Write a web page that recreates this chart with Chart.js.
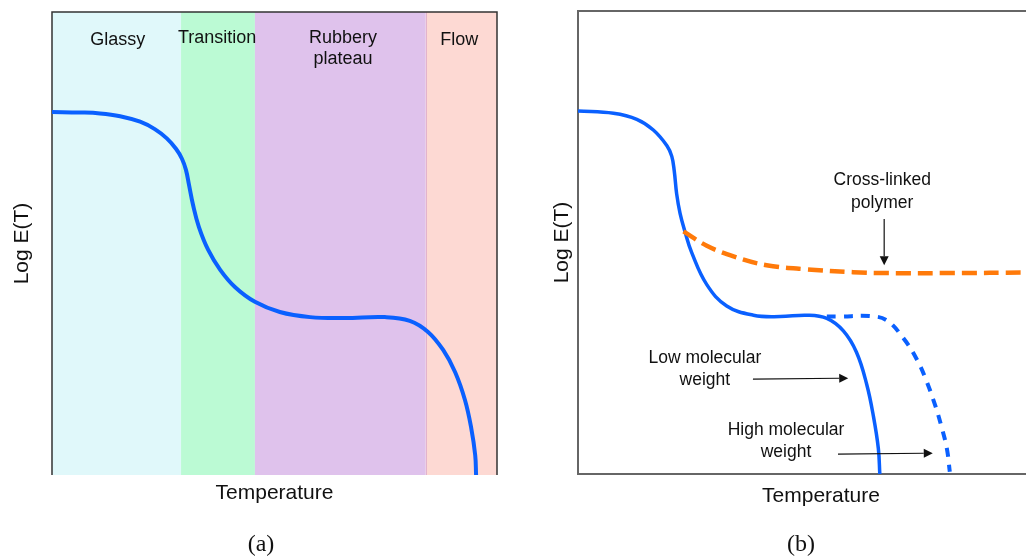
<!DOCTYPE html>
<html>
<head>
<meta charset="utf-8">
<script src="https://cdn.jsdelivr.net/npm/chart.js@4.4.1/dist/chart.umd.min.js"></script>
<style>
html, body { margin: 0; padding: 0; background: #fff; }
#wrap { position: relative; width: 1026px; height: 557px; overflow: hidden; }
#left_chart { position: absolute; left: 0; top: 0; }
#right_chart { position: absolute; left: 520px; top: 0; }
.caption {
    position: absolute; top: 529px; line-height: 28px;
    font-family: "Liberation Serif", serif; font-size: 24px; color: #111;
    transform: translateX(-50%);
}
</style>
</head>
<body>
<div id="wrap">
    <canvas id="left_chart" width="520" height="557"></canvas>
    <canvas id="right_chart" width="560" height="557"></canvas>
    <div class="caption" style="left:261px">(a)</div>
    <div class="caption" style="left:801px">(b)</div>
</div>
<script>
/* Data: temperature (0-100, arbitrary) vs log modulus (0-100, arbitrary) */
const regionNames = [['Glassy'], ['Transition'], ['Rubbery', 'plateau'], ['Flow']];
const regionEdges = [0, 29.0, 45.6, 84.0, 100];

const tempA = [0, 6.3, 10.8, 15.3, 19.8, 23.1, 25.8, 27.9, 29.2, 30.1, 30.8, 31.7, 33.0, 35.1, 37.8, 41.1, 45.6, 51.2, 58.0, 65.8, 74.8, 80.4, 84.5, 87.9, 90.6, 92.8, 94.2, 95.1, 95.3];
const modA = [78.4, 78.3, 78.1, 77.5, 76.3, 74.7, 72.7, 70.4, 68.3, 65.9, 62.6, 58.3, 53.6, 48.6, 44.3, 40.6, 37.4, 35.2, 34.1, 33.9, 34.1, 33.3, 30.9, 27.0, 22.2, 16.2, 10.2, 4.3, 0];

const tempLow = [0, 7.3, 12.1, 15.5, 18.3, 19.3, 19.8, 20.3, 21.0, 22.0, 23.4, 26.5, 30.6, 36.1, 41.6, 47.1, 51.2, 54.6, 57.3, 59.4, 60.8, 61.8, 62.1];
const modLow = [78.4, 77.9, 76.6, 74.3, 70.9, 68.6, 65.5, 60.5, 56.3, 52.4, 47.8, 40.9, 36.3, 34.3, 34.0, 34.3, 33.6, 30.9, 26.3, 19.4, 12.4, 5.5, 0];

const tempHigh = [51.2, 53.9, 60.1, 63.5, 66.9, 69.7, 71.7, 73.5, 74.8, 75.9, 76.5];
const modHigh = [34.0, 34.0, 34.1, 33.2, 29.4, 24.8, 20.1, 14.8, 10.2, 5.5, 0.5];

const tempCross = [21.7, 26.5, 32.0, 38.8, 47.1, 56.6, 63.5, 77.2, 92.2, 100];
const modCross = [52.4, 49.3, 47.0, 45.1, 44.2, 43.6, 43.4, 43.4, 43.5, 43.5];

const toPoints = (xs, ys) => xs.map((v, i) => ({ x: v, y: ys[i] }));

/* Annotations for panel (b), in data units */
const noteLabels = [
    { lines: ['Cross-linked', 'polymer'], x: 62.6, y: [63.5, 58.5] },
    { lines: ['Low molecular', 'weight'], x: 26.1, y: [25.1, 20.3] },
    { lines: ['High molecular', 'weight'], x: 42.8, y: [9.5, 4.8] }
];
const noteArrows = [
    [63.0, 55.1, 63.0, 45.1],
    [36.0, 20.5, 55.6, 20.7],
    [53.5, 4.3, 73.0, 4.5]
];
const regionLabelX = [14.8, 37.1, 65.4, 91.5];
const regionLabelY = [94.0, 94.4, 94.4, 94.0];

const FONT = "'Liberation Sans', Arial, sans-serif";
const BLUE = '#0a60ff';
const ORANGE = '#ff7a0a';
const bandColors = ['#e0f8fa', '#bbfad4', '#dfc2ec', '#fdd9d3'];

function drawArrow(ctx, x1, y1, x2, y2) {
    const ang = Math.atan2(y2 - y1, x2 - x1);
    const head = 9, half = 4.5;
    ctx.beginPath();
    ctx.moveTo(x1, y1);
    ctx.lineTo(x2 - head * Math.cos(ang), y2 - head * Math.sin(ang));
    ctx.stroke();
    ctx.beginPath();
    ctx.moveTo(x2, y2);
    ctx.lineTo(x2 - head * Math.cos(ang) + half * Math.sin(ang), y2 - head * Math.sin(ang) - half * Math.cos(ang));
    ctx.lineTo(x2 - head * Math.cos(ang) - half * Math.sin(ang), y2 - head * Math.sin(ang) + half * Math.cos(ang));
    ctx.closePath();
    ctx.fill();
}

// background regions + frame for panel (a)
const regionsPlugin = {
    id: 'regions',
    beforeDatasetsDraw(chart) {
        const { ctx, chartArea: a, scales: { x } } = chart;
        ctx.save();
        for (let i = 0; i < bandColors.length; i++) {
            const x0 = x.getPixelForValue(regionEdges[i]);
            const x1 = x.getPixelForValue(regionEdges[i + 1]);
            ctx.fillStyle = bandColors[i];
            ctx.fillRect(x0, a.top, x1 - x0, a.bottom - a.top);
        }
        ctx.strokeStyle = '#e3b3cc';
        ctx.lineWidth = 1;
        const xf = Math.round(x.getPixelForValue(regionEdges[3])) + 0.5;
        ctx.beginPath();
        ctx.moveTo(xf, a.top);
        ctx.lineTo(xf, a.bottom);
        ctx.stroke();

        ctx.strokeStyle = '#333';
        ctx.lineWidth = 1.5;
        ctx.beginPath();
        ctx.moveTo(a.left, a.bottom);
        ctx.lineTo(a.left, a.top);
        ctx.lineTo(a.right, a.top);
        ctx.lineTo(a.right, a.bottom);
        ctx.stroke();
        ctx.restore();
    },
    afterDatasetsDraw(chart) {
        const { ctx, scales: { x, y } } = chart;
        ctx.save();
        ctx.fillStyle = '#111';
        ctx.font = '18px ' + FONT;
        ctx.textAlign = 'center';
        ctx.textBaseline = 'middle';
        regionNames.forEach((lines, i) => {
            lines.forEach((t, j) => {
                ctx.fillText(t, x.getPixelForValue(regionLabelX[i]), y.getPixelForValue(regionLabelY[i]) + j * 21);
            });
        });
        ctx.restore();
    }
};

// frame and notes for panel (b)
const notesPlugin = {
    id: 'notes',
    beforeDatasetsDraw(chart) {
        const { ctx, chartArea: a } = chart;
        ctx.save();
        ctx.strokeStyle = '#666';
        ctx.lineWidth = 2;
        ctx.beginPath();
        ctx.moveTo(a.right, a.top);
        ctx.lineTo(a.left, a.top);
        ctx.lineTo(a.left, a.bottom);
        ctx.lineTo(a.right, a.bottom);
        ctx.stroke();
        ctx.restore();
    },
    afterDatasetsDraw(chart) {
        const { ctx, scales: { x, y } } = chart;
        ctx.save();
        ctx.fillStyle = '#111';
        ctx.strokeStyle = '#111';
        ctx.lineWidth = 1.2;
        ctx.font = '17.5px ' + FONT;
        ctx.textAlign = 'center';
        ctx.textBaseline = 'middle';
        noteLabels.forEach(l => {
            l.lines.forEach((t, i) => ctx.fillText(t, x.getPixelForValue(l.x), y.getPixelForValue(l.y[i])));
        });
        noteArrows.forEach(r => {
            drawArrow(ctx, x.getPixelForValue(r[0]), y.getPixelForValue(r[1]), x.getPixelForValue(r[2]), y.getPixelForValue(r[3]));
        });
        ctx.restore();
    }
};

function axes(yTitlePad, xTitlePad) {
    return {
        x: {
            type: 'linear', min: 0, max: 100,
            grid: { display: false, drawTicks: false },
            border: { display: false },
            ticks: { display: false },
            title: { display: true, text: 'Temperature', color: '#111', font: { family: FONT, size: 21 }, padding: xTitlePad }
        },
        y: {
            type: 'linear', min: 0, max: 100,
            grid: { display: false, drawTicks: false },
            border: { display: false },
            ticks: { display: false },
            title: { display: true, text: 'Log E(T)', color: '#111', font: { family: FONT, size: 21 }, padding: yTitlePad }
        }
    };
}

// smooth parametric curves: plain bezier tension instead of monotone
const baseLine = {
    pointRadius: 0,
    fill: false,
    tension: 0.4,
    borderCapStyle: 'butt'
};

new Chart(document.getElementById('left_chart'), {
    type: 'line',
    data: {
        datasets: [{
            ...baseLine,
            data: toPoints(tempA, modA),
            borderColor: BLUE,
            borderWidth: 4
        }]
    },
    options: {
        responsive: false,
        animation: false,
        devicePixelRatio: 1,
        layout: { padding: { left: 5.4, right: 23, top: 12, bottom: 51.4 } },
        scales: axes({ top: 4, bottom: 17.4 }, { top: 5.4, bottom: 0 }),
        plugins: { legend: { display: false }, tooltip: { enabled: false } }
    },
    plugins: [regionsPlugin]
});

new Chart(document.getElementById('right_chart'), {
    type: 'line',
    data: {
        datasets: [
            {
                ...baseLine,
                data: toPoints(tempCross, modCross),
                borderColor: ORANGE,
                borderWidth: 4.5,
                borderDash: [15, 7]
            },
            {
                ...baseLine,
                data: toPoints(tempHigh, modHigh),
                borderColor: BLUE,
                borderWidth: 4,
                borderDash: [9, 8]
            },
            {
                ...baseLine,
                data: toPoints(tempLow, modLow),
                borderColor: BLUE,
                borderWidth: 3.5
            }
        ]
    },
    options: {
        responsive: false,
        animation: false,
        devicePixelRatio: 1,
        layout: { padding: { left: 25.4, right: 16, top: 11, bottom: 48.4 } },
        scales: axes({ top: 4, bottom: 3.4 }, { top: 9.4, bottom: 0 }),
        plugins: { legend: { display: false }, tooltip: { enabled: false } }
    },
    plugins: [notesPlugin]
});
</script>
</body>
</html>
